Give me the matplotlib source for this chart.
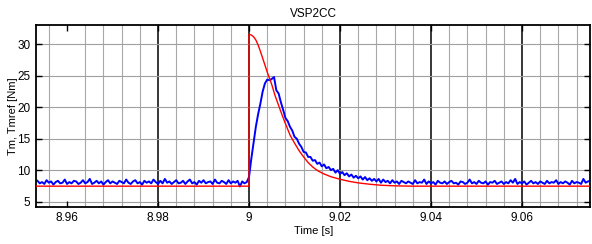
import matplotlib.pyplot as plt
import numpy as np

plt.rcParams["font.family"] = ["Liberation Sans", "DejaVu Sans"]
plt.rcParams["font.size"] = 8

# reference torque (red)
t_ref = [8.9532, 9.0, 9.0, 9.0005, 9.001, 9.0015, 9.002, 9.0025, 9.003, 9.0035,
         9.004, 9.0045, 9.005, 9.0057, 9.0065, 9.0072, 9.008, 9.009, 9.010,
         9.011, 9.012, 9.013, 9.014, 9.015, 9.0163, 9.018, 9.020, 9.022,
         9.024, 9.0266, 9.029, 9.032, 9.036, 9.075]
tmref = [7.45, 7.45, 31.6, 31.5, 31.2, 30.7, 29.9, 28.9, 27.8, 26.7,
         25.6, 24.6, 23.6, 21.9, 20.3, 18.9, 17.4, 15.6, 14.3,
         13.1, 12.1, 11.2, 10.5, 9.95, 9.45, 8.95, 8.55, 8.22,
         7.97, 7.75, 7.6, 7.5, 7.45, 7.45]

# measured torque (blue), sampled every 0.5 ms
t_start = 8.9535
dt = 0.0005
tm_before = [8.3, 7.9, 8.1, 7.8, 8.4, 8.0, 8.2, 7.7, 8.1, 8.3,
             7.9, 8.0, 8.5, 7.8, 8.1, 7.9, 8.3, 8.2, 7.8, 8.0,
             8.4, 7.9, 8.1, 8.6, 7.8, 8.0, 8.3, 7.9, 8.2, 7.7,
             8.1, 8.4, 7.9, 8.2, 8.0, 7.8, 8.3, 8.1, 7.9, 8.5,
             8.0, 7.8, 8.2, 8.4, 7.9, 8.1, 7.7, 8.3, 8.0, 8.2,
             7.9, 8.5, 8.1, 7.8, 8.3, 7.9, 8.6, 8.0, 8.2, 7.8,
             8.1, 8.4, 7.9, 8.0, 8.3, 7.8, 8.2, 8.5, 7.9, 8.1,
             7.7, 8.3, 8.0, 8.4, 7.9, 8.1, 8.2, 7.8, 8.5, 8.0,
             7.9, 8.3, 8.1, 7.8, 8.4, 7.9, 8.2, 8.0, 8.3, 7.4,
             8.2, 7.9, 8.1]
tm_after = [8.9, 11.8, 14.3, 16.9, 18.9, 20.6, 22.5, 23.8, 24.4, 24.3,
            24.5, 24.8, 22.7, 22.2, 20.8, 19.6, 18.3, 17.8, 16.9, 16.3,
            15.3, 15.0, 14.2, 13.7, 12.9, 12.8, 12.1, 12.1, 11.5, 11.6,
            11.0, 11.2, 10.6, 10.9, 10.3, 10.5, 10.0, 10.2, 9.6, 10.0,
            9.4, 9.7, 9.2, 9.5, 9.0, 9.3, 8.8, 9.1, 8.7, 9.0,
            8.5, 8.9, 8.4, 8.7, 8.3, 8.6, 8.2, 8.6, 8.0, 8.5,
            8.1, 8.3, 7.9, 8.4, 8.0, 8.2, 7.8, 8.3, 8.1, 7.9,
            8.2, 8.0, 7.8, 8.4, 7.9, 8.1, 8.0, 8.5, 7.8, 8.2,
            7.9, 8.1, 7.7, 8.3, 8.0, 7.9, 8.2, 7.8, 8.1, 8.3,
            7.9, 8.0, 7.7, 8.2, 8.1, 7.8, 8.0, 8.5, 7.9, 8.1,
            7.8, 8.3, 8.0, 7.9, 8.2, 7.7, 8.1, 8.0, 8.3, 7.8,
            8.0, 8.2, 7.8, 8.1, 7.9, 8.4, 8.0, 8.6, 7.8, 8.1,
            7.9, 8.2, 7.7, 8.0, 8.3, 7.9, 8.1, 7.8, 8.2, 8.0,
            7.8, 8.3, 7.9, 8.1, 8.0, 8.4, 7.8, 8.1, 7.9, 8.2,
            8.0, 7.7, 8.3, 7.9, 8.1, 8.0, 7.8, 8.6, 8.0, 8.2,
            8.3, 7.9]
tm = tm_before + tm_after
t_meas = t_start + dt * np.arange(len(tm))

x_ticks = [8.96, 8.98, 9.0, 9.02, 9.04, 9.06]
x_labels = ["8.96", "8.98", "9", "9.02", "9.04", "9.06"]
x_major_lines = [8.98, 9.0, 9.02, 9.04, 9.06]
y_ticks = [5, 10, 15, 20, 25, 30]

fig = plt.figure(figsize=(5.92, 2.44), dpi=100)
ax = fig.add_axes([0.061, 0.152, 0.936, 0.746])

# minor grid every 4 ms in grey, major lines in black
for x in np.arange(8.956, 9.075, 0.004):
    if min(abs(x - m) for m in x_ticks) > 1e-6:
        ax.axvline(x, color="#a8a8a8", lw=0.8, zorder=0)
for x in x_major_lines:
    ax.axvline(x, color="black", lw=1.1, zorder=0)
for y in y_ticks:
    ax.axhline(y, color="#a0a0a0", lw=0.8, zorder=0)

ax.plot(t_meas, tm, color="blue", lw=1.4, zorder=2)
ax.plot(t_ref, tmref, color="red", lw=1.0, zorder=3)

ax.set_xlim(8.9532, 9.075)
ax.set_ylim(4.15, 33.1)
ax.set_xticks(x_ticks)
ax.set_xticklabels(x_labels)
ax.set_yticks(y_ticks)
ax.tick_params(direction="in", length=4, width=1.0, top=True, right=True,
               pad=4, labelsize=8.5)
for s in ax.spines.values():
    s.set_linewidth(1.3)

ax.set_title("VSP2CC", fontsize=8.5, pad=6)
ax.set_xlabel("Time [s]", labelpad=1)
ax.set_ylabel("Tm, Tmref [Nm]")
ax.yaxis.set_label_coords(-0.033, 0.5)

fig.savefig("out.png", dpi=100)
